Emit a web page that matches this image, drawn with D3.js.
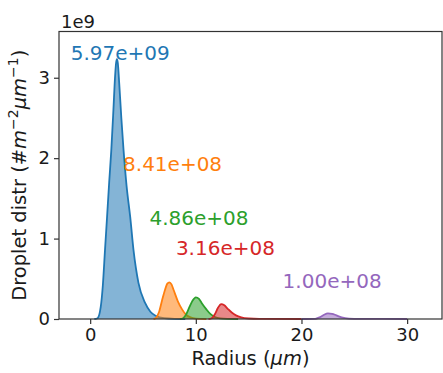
<!DOCTYPE html>
<html>
<head>
<meta charset="utf-8">
<script src="https://cdn.jsdelivr.net/npm/d3@7"></script>
<style>
  body { margin: 0; background: #fff; }
  text { font-family: "DejaVu Sans", sans-serif; }
</style>
</head>
<body>
<div id="chart"></div>
<script>
// radius (um) and droplet distribution
const blueR = [0.4, 0.7, 1.0, 1.2, 1.4, 1.6, 1.8, 2.0, 2.2, 2.35, 2.45, 2.53, 2.62, 2.75, 2.95, 3.16, 3.45, 3.79, 4.1, 4.57, 5.2, 5.7, 6.2, 7.0, 8.0, 9.0];
const blueN = [0, 0.01e9, 0.15e9, 0.42e9, 0.85e9, 1.27e9, 1.7e9, 2.1e9, 2.6e9, 3.0e9, 3.18e9, 3.23e9, 3.18e9, 2.93e9, 2.5e9, 2.1e9, 1.65e9, 1.27e9, 0.86e9, 0.45e9, 0.2e9, 0.09e9, 0.04e9, 0.01e9, 0.002e9, 0];

const orangeR = [6.0, 6.2, 6.5, 6.8, 7.1, 7.3, 7.5, 7.7, 7.9, 8.3, 8.7, 9.1, 9.5, 10.0, 11.0];
const orangeN = [0, 0.01e9, 0.08e9, 0.23e9, 0.37e9, 0.44e9, 0.456e9, 0.43e9, 0.36e9, 0.22e9, 0.12e9, 0.05e9, 0.02e9, 0.005e9, 0];

const greenR = [8.5, 8.8, 9.1, 9.4, 9.7, 10.0, 10.3, 10.6, 11.0, 11.4, 11.8, 12.3, 13.0, 14.0];
const greenN = [0, 0.01e9, 0.06e9, 0.15e9, 0.23e9, 0.27e9, 0.25e9, 0.19e9, 0.12e9, 0.06e9, 0.025e9, 0.008e9, 0.002e9, 0];

const redR = [11.2, 11.5, 11.8, 12.1, 12.4, 12.7, 13.0, 13.4, 13.8, 14.3, 15.0, 16.0, 20.0];
const redN = [0, 0.01e9, 0.06e9, 0.14e9, 0.185e9, 0.17e9, 0.13e9, 0.08e9, 0.045e9, 0.02e9, 0.006e9, 0.001e9, 0];

const purpleR = [20.0, 21.3, 21.7, 22.1, 22.5, 22.9, 23.3, 23.8, 24.5, 25.5, 30.0];
const purpleN = [0, 0.002e9, 0.02e9, 0.05e9, 0.07e9, 0.065e9, 0.045e9, 0.02e9, 0.005e9, 0.001e9, 0];

const seriesColors = ["#1f77b4", "#ff7f0e", "#2ca02c", "#d62728", "#9467bd"];

// total counts written on the chart, and where (x in um, y in #)
const labelText = ["5.97e+09", "8.41e+08", "4.86e+08", "3.16e+08", "1.00e+08"];
const labelX = [2.85, 7.8, 10.3, 12.8, 22.9];
const labelY = [3.225e9, 1.84e9, 1.165e9, 0.795e9, 0.38e9];

const xTicks = [0, 10, 20, 30];
const yTicks = [0, 1e9, 2e9, 3e9];

const W = 443, H = 373;
const margin = { top: 31.5, right: 1, bottom: 54, left: 59 };

const svg = d3.select("#chart").append("svg")
  .attr("width", W)
  .attr("height", H);

const x = d3.scaleLinear().domain([-2.95, 33.3]).range([margin.left, W - margin.right]);
const y = d3.scaleLinear().domain([0, 3.575e9]).range([H - margin.bottom, margin.top]);

const series = [
  [blueR, blueN], [orangeR, orangeN], [greenR, greenN], [redR, redN], [purpleR, purpleN]
].map(([r, n]) => r.map((v, i) => ({ r: v, n: n[i] })));

const area = d3.area()
  .x((d) => x(d.r))
  .y0(y(0))
  .y1((d) => y(d.n))
  .curve(d3.curveMonotoneX);

const line = d3.line()
  .x((d) => x(d.r))
  .y((d) => y(d.n))
  .curve(d3.curveMonotoneX);

series.forEach((s, i) => {
  svg.append("path")
    .datum(s)
    .attr("d", area)
    .attr("fill", seriesColors[i])
    .attr("fill-opacity", 0.55);
  svg.append("path")
    .datum(s)
    .attr("d", line)
    .attr("fill", "none")
    .attr("stroke", seriesColors[i])
    .attr("stroke-width", 1.8);
});

// axes
const xAxis = svg.append("g")
  .attr("transform", `translate(0,${H - margin.bottom})`)
  .call(d3.axisBottom(x).tickValues(xTicks).tickSize(5).tickPadding(4).tickFormat(d3.format("d")));
const yAxis = svg.append("g")
  .attr("transform", `translate(${margin.left},0)`)
  .call(d3.axisLeft(y).tickValues(yTicks).tickSize(5).tickPadding(4).tickFormat((d) => d / 1e9));

[xAxis, yAxis].forEach((g) => {
  g.select(".domain").remove();
  g.selectAll(".tick line").attr("stroke", "#333").attr("stroke-width", 1.2);
  g.selectAll(".tick text").attr("fill", "#1a1a1a").style("font-size", "18px");
});

// frame
svg.append("rect")
  .attr("x", margin.left)
  .attr("y", margin.top)
  .attr("width", W - margin.right - margin.left)
  .attr("height", H - margin.bottom - margin.top)
  .attr("fill", "none")
  .attr("stroke", "#333")
  .attr("stroke-width", 1.2);

// offset text
svg.append("text")
  .attr("x", margin.left + 2)
  .attr("y", 27.5)
  .attr("fill", "#1a1a1a")
  .style("font-size", "18px")
  .text("1e9");

// annotations
labelText.forEach((t, i) => {
  svg.append("text")
    .attr("x", x(labelX[i]))
    .attr("y", y(labelY[i]))
    .attr("text-anchor", "middle")
    .attr("fill", seriesColors[i])
    .style("font-size", "20px")
    .text(t);
});

// x label
const xl = svg.append("text")
  .attr("x", (margin.left + W - margin.right) / 2)
  .attr("y", 365)
  .attr("text-anchor", "middle")
  .attr("fill", "#1a1a1a")
  .style("font-size", "19.5px");
xl.append("tspan").text("Radius (");
xl.append("tspan").attr("font-style", "italic").text("μm");
xl.append("tspan").text(")");

// y label
const yl = svg.append("text")
  .attr("transform", `translate(26,${(margin.top + H - margin.bottom) / 2}) rotate(-90)`)
  .attr("text-anchor", "middle")
  .attr("fill", "#1a1a1a")
  .style("font-size", "19.5px");
yl.append("tspan").text("Droplet distr (#");
yl.append("tspan").attr("font-style", "italic").text("m");
yl.append("tspan").attr("dy", -8).style("font-size", "14px").text("−2");
yl.append("tspan").attr("dy", 8).attr("font-style", "italic").text("μm");
yl.append("tspan").attr("dy", -8).style("font-size", "14px").text("−1");
yl.append("tspan").attr("dy", 8).text(")");
</script>
</body>
</html>
